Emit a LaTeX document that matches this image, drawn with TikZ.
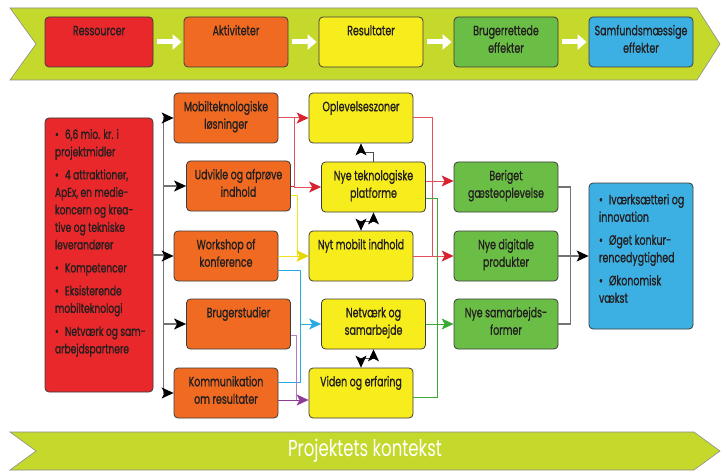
\documentclass[tikz,border=0pt]{standalone}
\usepackage{fontspec}
\setmainfont{Poppins}[FakeStretch=0.70,FakeBold=0.9]
\newfontfamily\ctxfont{Poppins}[FakeStretch=0.72]
\usetikzlibrary{arrows.meta,calc}

\definecolor{banner}{RGB}{197,217,45}
\definecolor{resred}{RGB}{232,40,43}
\definecolor{actorange}{RGB}{240,106,34}
\definecolor{outyellow}{RGB}{247,236,28}
\definecolor{usergreen}{RGB}{107,190,69}
\definecolor{socblue}{RGB}{61,176,227}
\definecolor{boxline}{RGB}{60,60,60}
\definecolor{textdark}{RGB}{35,31,32}
\definecolor{linered}{RGB}{229,80,88}
\definecolor{headred}{RGB}{215,35,45}
\definecolor{lineyellow}{RGB}{240,224,30}
\definecolor{headyellow}{RGB}{232,216,0}
\definecolor{lineblue}{RGB}{41,171,226}
\definecolor{linepurple}{RGB}{142,58,150}
\definecolor{lightpurple}{RGB}{180,125,195}
\definecolor{linegreen}{RGB}{58,170,53}

\newcommand{\lbl}[1]{\parbox[c][38pt][t]{102pt}{\centering\strut #1}}
\newcommand{\itm}[1]{\par\hangindent=10pt\hangafter=1\noindent\makebox[10pt][l]{\textbullet}#1\par\vspace{5.5pt}}

\tikzset{
  box/.style={draw=boxline, line width=0.8pt, rounded corners=4pt, inner sep=0pt,
    minimum width=104pt, minimum height=50pt, text=textdark,
    font=\fontsize{13.5}{17.5}\selectfont},
  head/.style={-{Stealth[length=12pt,width=11pt,inset=3pt,color=#1]}},
  head/.default=black,
  trunk/.style={draw=black!55, line width=1.2pt},
  bihead/.style={{Stealth[length=12pt,width=11pt,inset=3pt,color=black]}-{Stealth[length=12pt,width=11pt,inset=3pt,color=black]}},
}

\begin{document}
\begin{tikzpicture}[x=1pt,y=-1pt]
  \useasboundingbox (0,0) rectangle (723,476);

  % banner: logic model
  \draw [fill=banner, draw=black!45, line width=0.6pt]
    (10,8) -- (697,8) -- (720,44) -- (697,80) -- (10,80) -- (36,44) -- cycle;
  \node [box, fill=resred, minimum width=108pt] (res) at (99,42) {\lbl{Ressourcer}};
  \node [box, fill=actorange] (akt) at (236,42) {\lbl{Aktiviteter}};
  \node [box, fill=outyellow] (resu) at (371,42) {\lbl{Resultater}};
  \node [box, fill=usergreen] (bru) at (506,42) {\lbl{Brugerrettede\\effekter}};
  \node [box, fill=socblue] (sam) at (641,42) {\lbl{Samfundsmæssige\\effekter}};
  \foreach \a/\b in {res/akt, akt/resu, resu/bru, bru/sam}
    \draw [white, line width=5pt, -{Triangle[length=9pt,width=15pt]}]
      ([xshift=4pt]\a.east) -- ([xshift=-2pt]\b.west);

  % resources
  \node [box, fill=resred, minimum width=108pt, minimum height=274pt,
         font=\fontsize{13}{17.5}\selectfont] (input) at (99,255)
    {\parbox[c][262pt][t]{98pt}{\raggedright\leftskip=5pt\vspace{5pt}
      \itm{6,6 mio. kr. i\\projektmidler}
      \itm{4 attraktioner,\\ApEx, en medie-\\koncern og krea-\\tive og tekniske\\leverandører}
      \itm{Kompetencer}
      \itm{Eksisterende\\mobilteknologi}
      \itm{Netværk og sam-\\arbejdspartnere}}};

  % activities
  \node [box, fill=actorange] (mob) at (226,118) {\lbl{Mobilteknologiske\\løsninger}};
  \node [box, fill=actorange] (udv) at (238.5,186) {\lbl{Udvikle og afprøve\\indhold}};
  \node [box, fill=actorange] (work) at (226,256) {\lbl{Workshop of\\konference}};
  \node [box, fill=actorange] (brug) at (238.5,324) {\lbl{Brugerstudier}};
  \node [box, fill=actorange] (komm) at (226,393) {\lbl{Kommunikation\\om resultater}};

  % outputs
  \node [box, fill=outyellow] (ople) at (361,118) {\lbl{Oplevelseszoner}};
  \node [box, fill=outyellow] (tek) at (373.5,187) {\lbl{Nye teknologiske\\platforme}};
  \node [box, fill=outyellow] (nyt) at (361,256) {\lbl{Nyt mobilt indhold}};
  \node [box, fill=outyellow] (net) at (373.5,324) {\lbl{Netværk og\\samarbejde}};
  \node [box, fill=outyellow] (vid) at (361,393) {\lbl{Viden og erfaring}};

  % user effects
  \node [box, fill=usergreen] (ber) at (506,187) {\lbl{Beriget\\gæsteoplevelse}};
  \node [box, fill=usergreen] (dig) at (506,256) {\lbl{Nye digitale\\produkter}};
  \node [box, fill=usergreen] (samf) at (506,324) {\lbl{Nye samarbejds-\\former}};

  % societal effects
  \node [box, fill=socblue, minimum height=146pt] (soc) at (641,256)
    {\parbox[c][134pt][t]{92pt}{\raggedright\leftskip=4pt\vspace{5pt}
      \itm{Iværksætteri og\\innovation}
      \itm{Øget konkur-\\rencedygtighed}
      \itm{Økonomisk\\vækst}}};

  % banner: context
  \draw [fill=banner, draw=black!45, line width=0.6pt]
    (10,432) -- (694,432) -- (720,451) -- (694,470) -- (10,470) -- (36,451) -- cycle;
  \node [text=white, font=\ctxfont\fontsize{23}{26}\selectfont] (ctx) at (365,451) {Projektets kontekst};

  % resources -> activities
  \draw [trunk] (input.east) -- ++(10,0) coordinate (t);
  \draw [trunk] (t |- mob.west) -- (t |- komm.west);
  \foreach \n in {mob, udv, work, brug, komm}
    \draw [trunk, head] (t |- \n.west) -- (\n.west);

  % activities -> outputs
  \coordinate (rj) at (294,0);
  \coordinate (yj) at (297,0);
  \coordinate (bj) at (300,0);
  \coordinate (pj) at (296,0);
  \draw [linered, line width=1pt, head=headred] (mob.east) -- (ople.west);
  \draw [linered, line width=1pt, head=headred] (rj |- mob.east) |- (tek.west);
  \draw [headred, line width=1pt] (udv.east) -- (rj |- udv.east);
  \draw [lineyellow, line width=1pt, head=headyellow] ([yshift=-9pt]udv.east) -| (yj |- nyt.west) -- (nyt.west);
  \draw [lineyellow, line width=1pt, head=headyellow] (work.east) -- (nyt.west);
  \draw [lineblue, line width=1pt, head=lineblue] ([yshift=-14pt]work.east) -| (bj |- net.west) -- (net.west);
  \draw [lineblue, line width=1pt] ([yshift=11pt]komm.east) -| (bj |- net.west);
  \draw [lightpurple, line width=1pt] ([yshift=-11pt]brug.east) -| (pj |- 0,400);
  \draw [linepurple, line width=1pt, head=linepurple] ([yshift=-7pt]komm.east) -- ([yshift=-7pt]vid.west);

  % outputs among themselves
  \draw [black!70, line width=0.8pt, head] (tek.north) -- ++(0,-9) -| (ople.south);
  \draw [black!70, line width=0.8pt, bihead]
    (nyt.north) -- ++(0,-9) -- ($(tek.south)+(0,9)$) -- (tek.south);
  \draw [black!70, line width=0.8pt, bihead]
    (vid.north) -- ++(0,-9) -- ($(net.south)+(0,9)$) -- (net.south);

  % outputs -> user effects
  \coordinate (gr) at (432,0);
  \coordinate (gg) at (437,0);
  \draw [linered, line width=1pt] (ople.east) -| (gr |- dig.west);
  \draw [linered, line width=1pt, head=headred] ([yshift=6pt]tek.east) -- ([yshift=6pt]ber.west);
  \draw [linered, line width=1pt, head=headred] (nyt.east) -- (dig.west);
  \draw [linegreen, line width=1pt] ([yshift=-11pt]tek.east) -| (gg |- samf.west);
  \draw [linegreen, line width=1pt, head=linegreen] (net.east) -- (samf.west);
  \draw [linegreen, line width=1pt] ([yshift=-4pt]vid.east) -| (gg |- samf.west);

  % user effects -> societal effects
  \draw [trunk] (ber.east) -- ++(12,0) coordinate (s) -- (s |- samf.east) -- (samf.east);
  \draw [trunk, head] (dig.east) -- (soc.west);
\end{tikzpicture}
\end{document}
